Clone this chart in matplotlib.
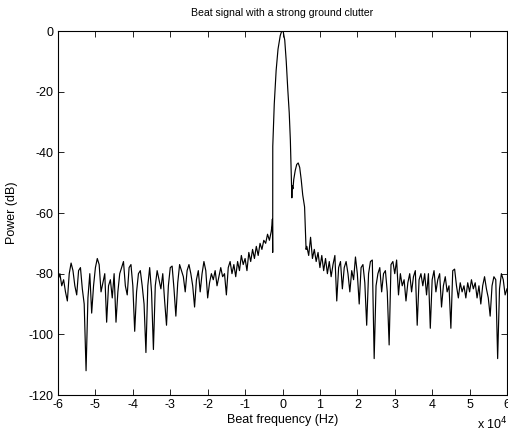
import numpy as np
import matplotlib
matplotlib.use("Agg")
import matplotlib.pyplot as plt

plt.rcParams['font.family'] = ['Liberation Sans', 'DejaVu Sans']
plt.rcParams['axes.unicode_minus'] = False

title = "Beat signal with a strong ground clutter"
xlabel = "Beat frequency (Hz)"
ylabel = "Power (dB)"
xticks = [-6, -5, -4, -3, -2, -1, 0, 1, 2, 3, 4, 5, 6]
yticks = [0, -20, -40, -60, -80, -100, -120]

# frequency in units of 1e4 Hz
left_start, left_end = -6.0, -0.30
power_left = [
    -82, -80, -84, -82, -86, -89, -80, -76.5, -79, -84,
    -87, -79, -78, -85, -90, -112, -88, -80, -93, -84,
    -78, -75, -77, -86, -83, -80, -96, -84, -82, -88,
    -80, -96, -86, -80, -78, -76, -84, -87, -78, -77,
    -84, -99, -86, -80, -79, -84, -90, -106, -84, -78,
    -86, -105, -84, -79, -82, -85, -80, -89, -97, -84,
    -78, -77.5, -85, -94, -83, -77, -79, -81, -86, -79,
    -77, -80, -84, -91, -82, -79, -86, -80, -76, -79,
    -88, -83, -80, -82, -79, -84, -81, -78, -81, -80,
    -87, -78, -76, -80, -77, -81, -76, -79, -74, -77,
    -75, -79, -73, -76, -72, -75, -71, -74, -70, -72,
    -69, -70, -67, -69, -66,
]

peak_freq = [-0.28, -0.27, -0.262, -0.26, -0.22, -0.17, -0.12, -0.06, -0.02,
             0.02, 0.06, 0.10, 0.14, 0.18, 0.21, 0.23, 0.25, 0.26, 0.28,
             0.30, 0.34, 0.38, 0.42, 0.46, 0.50, 0.54, 0.59, 0.63]
peak_power = [-64, -62, -73, -38, -24, -13, -6, -1.5, 0,
              -0.3, -3, -10, -19, -27, -36, -46, -55, -51, -52,
              -49, -46, -44, -43.5, -45, -49, -54, -58, -72]

right_start, right_end = 0.65, 6.0
power_right = [
    -71, -74, -68, -75, -72, -76, -73, -78, -74, -79,
    -75, -80, -76, -81, -77, -74, -89, -78, -76, -85,
    -78, -76, -80, -86, -79, -82, -74.5, -80, -90, -78,
    -77, -83, -97, -80, -76, -75.5, -108, -84, -80, -78,
    -86, -80, -79, -86, -103.5, -77, -76, -80, -75.5, -87,
    -80, -84, -82, -89, -83, -80, -86, -81, -79, -97,
    -82, -80, -84, -80, -87, -80, -98, -82, -79, -86,
    -82, -80, -91, -84, -81, -86, -84, -98, -79, -78.5,
    -84, -88, -83, -86, -84, -88, -83, -86, -82, -85,
    -83, -88, -84, -90, -84, -81, -85, -88, -94, -84,
    -81, -82, -108, -85, -80, -82, -87, -85,
]

freq_left = np.linspace(left_start, left_end, len(power_left))
freq_right = np.linspace(right_start, right_end, len(power_right))
freq = np.concatenate([freq_left, peak_freq, freq_right])
power = np.concatenate([power_left, peak_power, power_right])

fig = plt.figure(figsize=(5.08, 4.29), dpi=100)
ax = fig.add_axes([58/508, 34/429, (507-58)/508, (395-31)/429])
ax.plot(freq, power, color='black', linewidth=0.85)
ax.set_xlim(-6, 6)
ax.set_ylim(-120, 0)
ax.set_xticks(xticks)
ax.set_yticks(yticks)
ax.set_xticklabels([str(t) for t in xticks])
ax.set_yticklabels([str(t) for t in yticks])
ax.tick_params(direction='in', top=True, right=True, length=4, width=0.6,
               labelsize=9, pad=3)
for s in ax.spines.values():
    s.set_linewidth(0.8)
ax.set_title(title, fontsize=7.6, pad=11)
ax.set_xlabel(xlabel, fontsize=9, labelpad=2)
ax.set_ylabel(ylabel, fontsize=9, labelpad=8)
fig.text(477/508, 1 - 424/429, "x 10$^4$", fontsize=9, ha='left', va='center')

fig.savefig("out.png", dpi=100)
